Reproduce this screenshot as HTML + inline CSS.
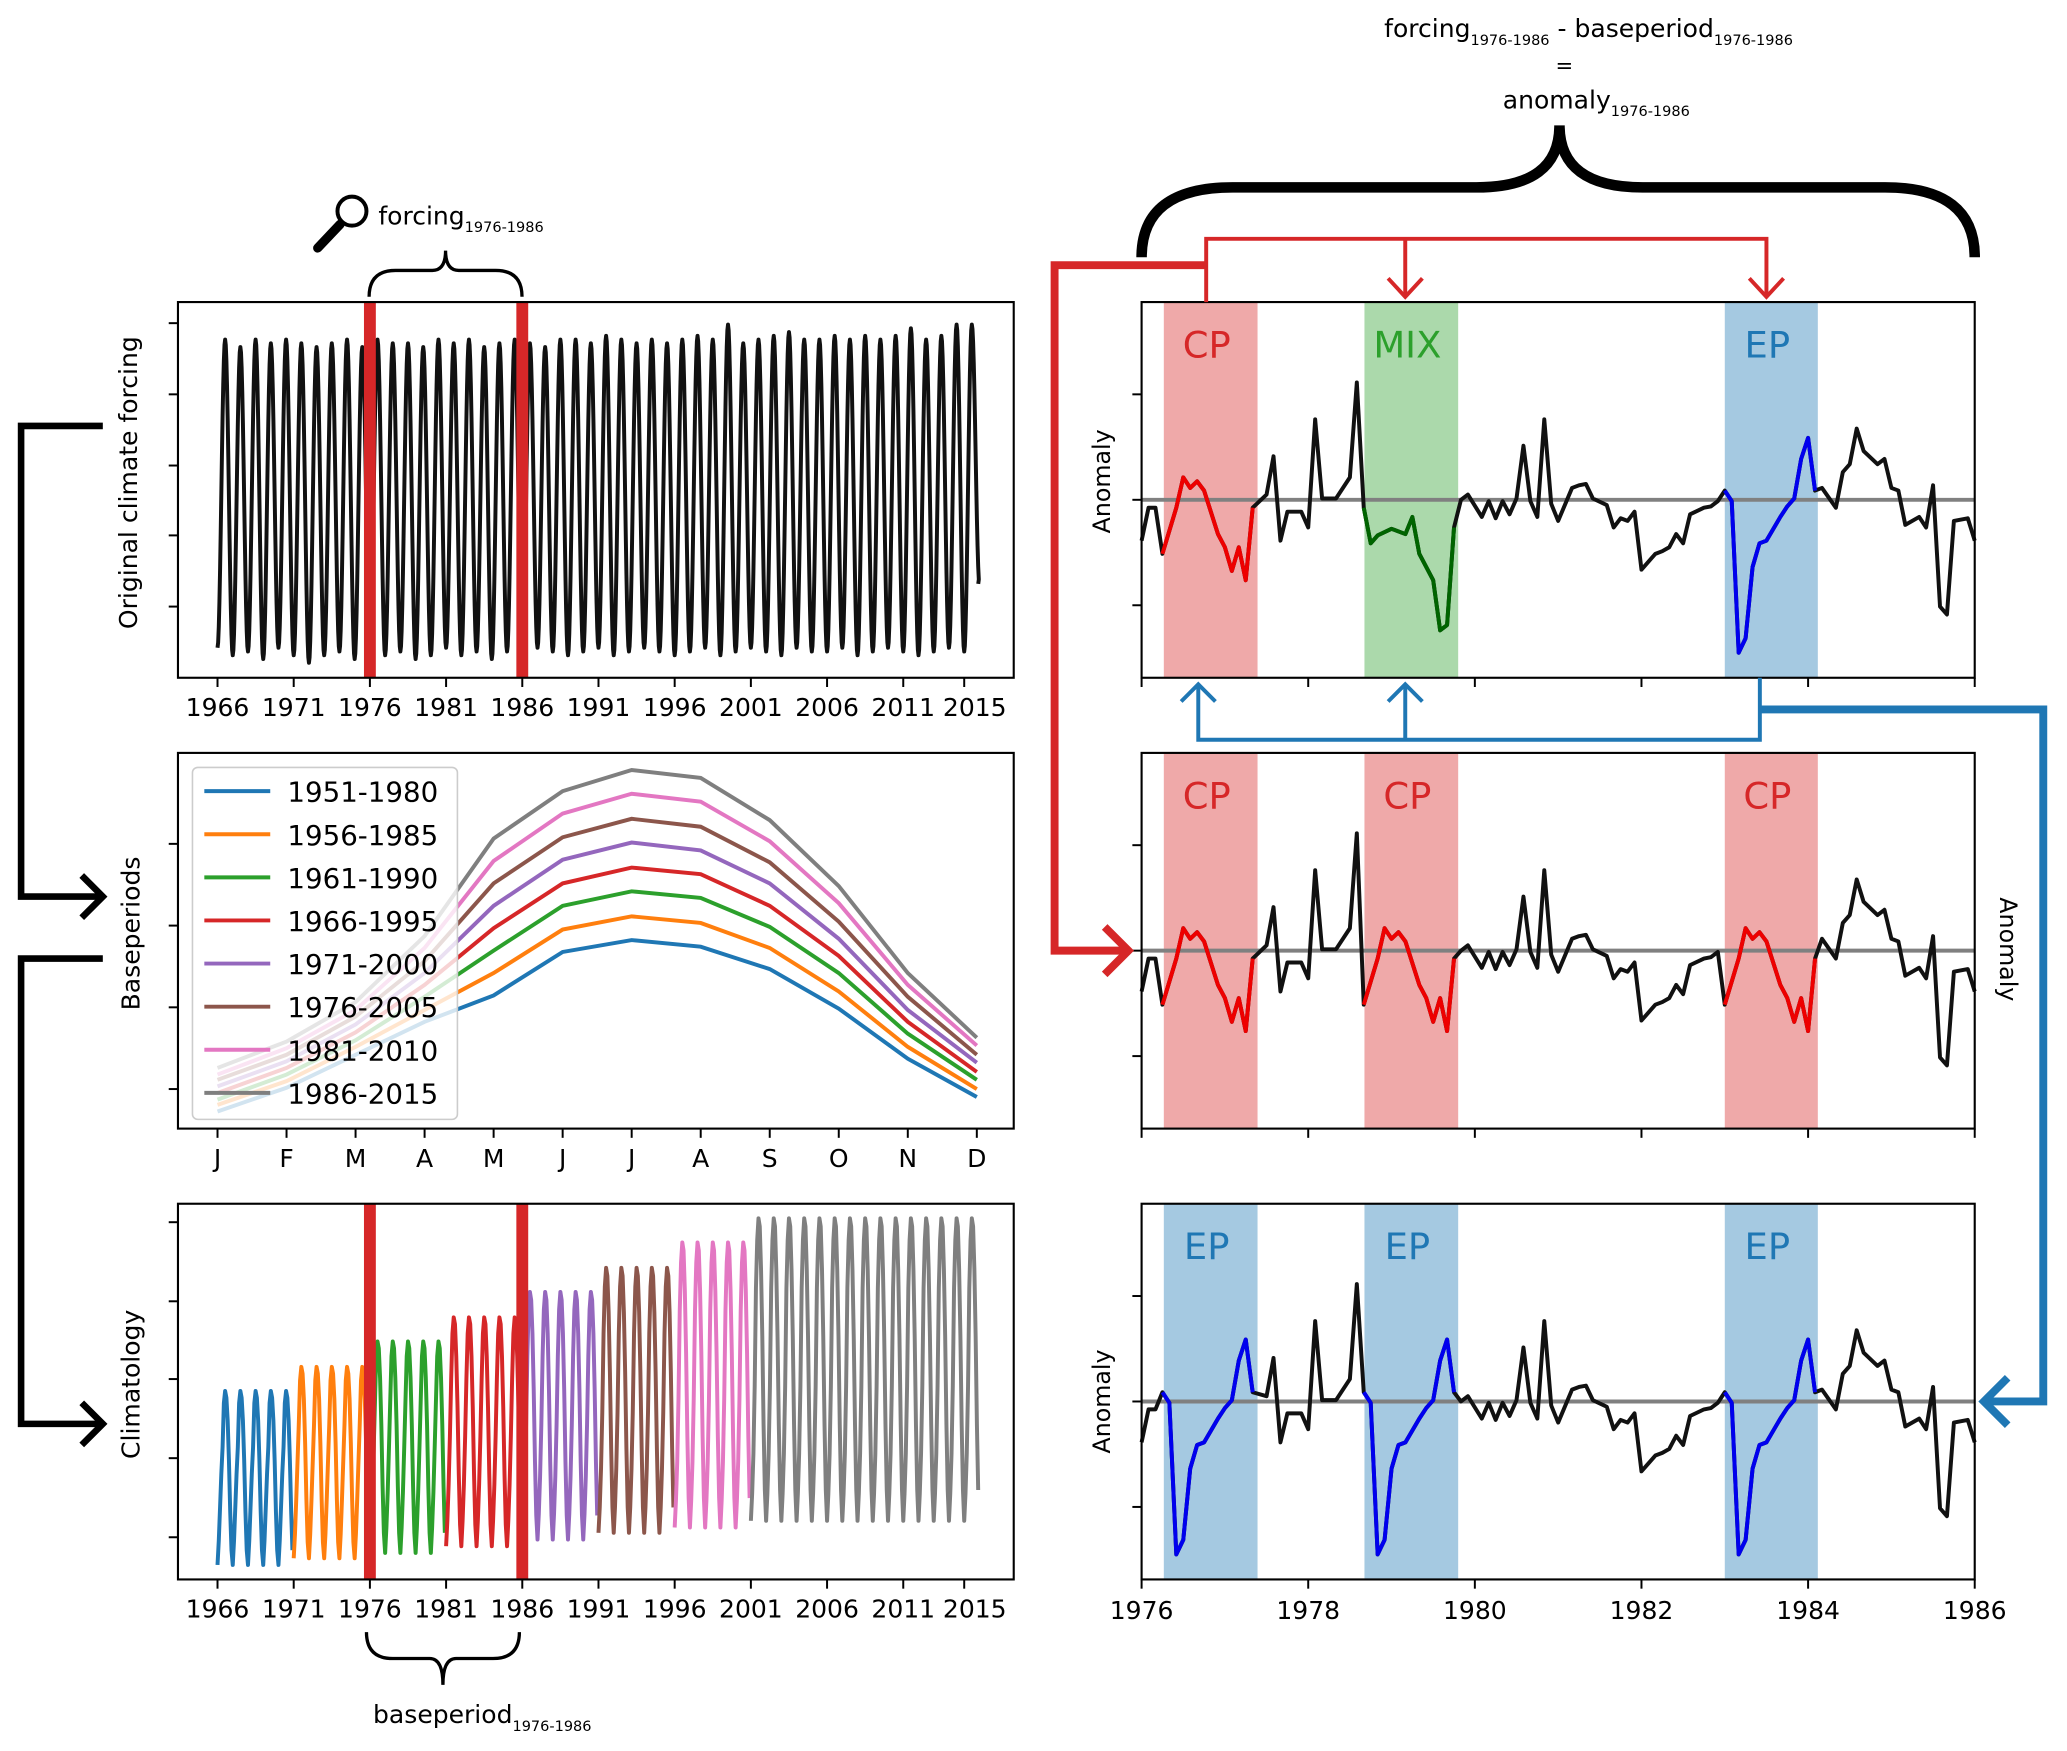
<!DOCTYPE html>
<html><head><meta charset="utf-8"><style>
html,body{margin:0;padding:0;background:#fff;}
svg{display:block;font-family:"DejaVu Sans","Liberation Sans",sans-serif;}
</style></head><body>
<svg id="fig" xmlns="http://www.w3.org/2000/svg" width="2067" height="1751" viewBox="0 0 1568 1328">
<rect width="1568" height="1328" fill="#fff"/>
<g id="layer"></g>
<g fill="none">
  <g>
    <circle cx="267" cy="160" r="11" stroke="#000" stroke-width="3"/>
    <line x1="258" y1="170" x2="241" y2="188" stroke="#000" stroke-width="7" stroke-linecap="round"/>
  </g>
  <text x="287" y="170" font-size="19" fill="#000" stroke="none">forcing<tspan font-size="11" dy="6">1976-1986</tspan></text>
  <path d="M280,225 Q280,205 300,205 L328,205 Q338,205 338,190 Q338,205 348,205 L376,205 Q396,205 396,225" stroke="#000" stroke-width="2.5"/>
  <path d="M278,1238 Q278,1258 298,1258 L326,1258 Q336,1258 336,1278 Q336,1258 346,1258 L374,1258 Q394,1258 394,1238" stroke="#000" stroke-width="2.5"/>
  <text x="283" y="1307" font-size="19" fill="#000" stroke="none">baseperiod<tspan font-size="11" dy="6">1976-1986</tspan></text>
  <text x="1050" y="28" font-size="19" fill="#000" stroke="none">forcing<tspan font-size="11" dy="6">1976-1986</tspan><tspan dy="-6"> - baseperiod</tspan><tspan font-size="11" dy="6">1976-1986</tspan></text>
  <text x="1180" y="55" font-size="16" fill="#000" stroke="none">=</text>
  <text x="1140" y="82" font-size="19" fill="#000" stroke="none">anomaly<tspan font-size="11" dy="6">1976-1986</tspan></text>
  <path d="M866,195 Q866,142 935,142 L1120,142 Q1183,142 1183,95 Q1183,142 1246,142 L1430,142 Q1498,142 1498,195" stroke="#000" stroke-width="8"/>
  <g stroke="#d62728">
    <polyline points="915,229 915,181 1340,181 1340,225" stroke-width="3"/>
    <line x1="1066" y1="181" x2="1066" y2="225" stroke-width="3"/>
    <polyline points="1053,211 1066,225 1079,211" stroke-width="3"/>
    <polyline points="1327,211 1340,225 1353,211" stroke-width="3"/>
    <polyline points="915,201 800,201 800,721 856,721" stroke-width="6"/>
    <polyline points="838,703 856,721 838,739" stroke-width="6"/>
  </g>
  <g stroke="#1f77b4">
    <polyline points="1335,514 1335,561 909,561 909,519" stroke-width="3"/>
    <line x1="1066" y1="561" x2="1066" y2="519" stroke-width="3"/>
    <polyline points="896,532 909,519 922,532" stroke-width="3"/>
    <polyline points="1053,532 1066,519 1079,532" stroke-width="3"/>
    <polyline points="1335,538 1550,538 1550,1063 1505,1063" stroke-width="6"/>
    <polyline points="1523,1045 1505,1063 1523,1081" stroke-width="6"/>
  </g>
  <g stroke="#000" stroke-width="5">
    <polyline points="78,323 16,323 16,680 78,680"/>
    <polyline points="62,664 78,680 62,696"/>
    <polyline points="78,727 16,727 16,1080 78,1080"/>
    <polyline points="62,1064 78,1080 62,1096"/>
  </g>
</g>
</svg>
<script>
// ---------- data ----------
const leftYearTicks = [1966,1971,1976,1981,1986,1991,1996,2001,2006,2011,2015];
const forcingPeaks = [90,88,90,89,90,89,88,89,90,88,90,89,89,88,90,89,90,88,89,90,89,88,90,90,89,91,90,89,90,89,90,91,90,94,89,90,91,92,90,90,91,90,91,90,91,93,90,91,94,94];
const forcingTroughs = [8,6,7,5,8,6,4,6,7,5,8,6,7,5,6,8,6,7,5,7,6,8,7,6,7,8,6,7,8,7,6,7,8,6,7,8,7,6,8,7,7,8,6,7,8,7,6,7,8,7,25];
const monthLabels = ['J','F','M','A','M','J','J','A','S','O','N','D'];
const basePeriodNames = ['1951-1980','1956-1985','1961-1990','1966-1995','1971-2000','1976-2005','1981-2010','1986-2015'];
const baseColors = ['#1f77b4','#ff7f0e','#2ca02c','#d62728','#9467bd','#8c564b','#e377c2','#7f7f7f'];
const bp1951 = [1.3,3.1,5.6,8.1,10.1,13.4,14.3,13.8,12.1,9.1,5.3,2.4];
const bp1956 = [1.8,3.6,6.2,9.0,11.8,15.1,16.1,15.6,13.7,10.4,6.2,3.0];
const bp1961 = [2.2,4.1,6.7,10.0,13.5,16.9,18.0,17.5,15.3,11.8,7.2,3.7];
const bp1966 = [2.7,4.6,7.3,10.9,15.2,18.6,19.8,19.3,16.9,13.1,8.1,4.3];
const bp1971 = [3.2,5.1,7.9,11.8,16.9,20.4,21.7,21.1,18.6,14.4,9.0,5.0];
const bp1976 = [3.7,5.6,8.5,12.7,18.6,22.1,23.5,22.9,20.2,15.7,10.0,5.6];
const bp1981 = [4.1,6.1,9.0,13.7,20.3,23.9,25.4,24.8,21.8,17.1,10.9,6.3];
const bp1986 = [4.6,6.6,9.6,14.6,22.0,25.6,27.2,26.6,23.4,18.4,11.8,6.9];
const climStartYears = [1966,1971,1976,1981,1986,1991,1996,2001];
const climEndYears = [1971,1976,1981,1986,1991,1996,2001,2016];
const rightYearTicks = [1976,1978,1980,1982,1984,1986];
const anomMonths = [0,1,2,3,5,6,7,8,9,11,12,13,14,15,16,18,19,20,21,23,24,25,26,27,28,30,31,32,33,34,36,37,38,39,40,42,43,44,45,46,47,49,50,51,52,53,54,55,56,57,58,59,60,62,63,64,65,67,68,69,70,71,72,74,75,76,77,78,79,81,82,83,84,85,86,87,88,89,90,92,93,94,95,96,97,98,100,101,102,103,104,106,107,108,109,110,112,113,114,115,116,117,119,120];
const anomValues = [-0.31,-0.06,-0.06,-0.41,-0.06,0.17,0.09,0.14,0.07,-0.26,-0.36,-0.54,-0.36,-0.61,-0.06,0.04,0.33,-0.31,-0.09,-0.09,-0.21,0.61,0.01,0.01,0.01,0.17,0.89,-0.06,-0.33,-0.27,-0.22,-0.24,-0.26,-0.13,-0.41,-0.61,-0.99,-0.95,-0.21,0,0.04,-0.13,-0.01,-0.14,-0.01,-0.11,0.01,0.41,-0.01,-0.13,0.61,-0.03,-0.16,0.09,0.11,0.12,0.01,-0.04,-0.21,-0.14,-0.16,-0.09,-0.53,-0.41,-0.39,-0.36,-0.26,-0.33,-0.11,-0.06,-0.05,-0.01,0.07,-0.01,-1.16,-1.05,-0.51,-0.33,-0.31,-0.13,-0.05,0.01,0.31,0.47,0.07,0.09,-0.06,0.21,0.27,0.54,0.37,0.27,0.31,0.09,0.07,-0.19,-0.13,-0.21,0.11,-0.81,-0.87,-0.16,-0.14,-0.31];
const eventNames = ['CP','MIX','EP'];
const eventStart = [3.2,32.1,84.0];
const eventEnd = [16.7,45.6,97.4];

// ---------- helpers ----------
const NS='http://www.w3.org/2000/svg';
const layer=document.getElementById('layer');
function mk(tag,attrs,parent){const e=document.createElementNS(NS,tag);for(const k in attrs)e.setAttribute(k,attrs[k]);(parent||layer).appendChild(e);return e;}
function txt(s,attrs,parent){const e=mk('text',attrs,parent);e.textContent=s;return e;}
function pts(a){return a.map(p=>p[0].toFixed(2)+','+p[1].toFixed(2)).join(' ');}

const yearX=y=>165+(y-1966)*11.56;
const monthX=m=>165+m*(741-165)/11;

function frame(x0,y0,w,h,name){
  const r=mk('rect',{x:x0,y:y0,width:w,height:h,fill:'none',stroke:'#000','stroke-width':1.6});
  
  
}

// ----- Panel 1: original forcing -----
const g1=mk('g',{});


const fY=v=>514-v*2.85;
let fp=[];
for(let i=0;i<forcingPeaks.length;i++){
  const tr0=forcingTroughs[i],tr1=forcingTroughs[i+1],pk=forcingPeaks[i];
  for(let k=0;k<24;k++){const f=k/24;const b=f<0.5?tr0:tr1;const v=b+(pk-b)*(1-Math.cos(2*Math.PI*f))/2;fp.push([yearX(1966+i+f),fY(v)]);}
}
fp.push([yearX(1966+forcingPeaks.length-0.08),fY(forcingTroughs[forcingTroughs.length-1])]);
const fl=mk('polyline',{points:pts(fp),fill:'none',stroke:'#111','stroke-width':3,'stroke-linejoin':'round'},g1);


[1976,1986].forEach(y=>{const b=mk('rect',{x:yearX(y)-4.5,y:229,width:9,height:285,fill:'#d62728'},g1);

});
frame(135,229,634,285,'forcing-axes-frame');
[245,299,353,406,460].forEach(y=>mk('line',{x1:128,x2:135,y1:y,y2:y,stroke:'#000','stroke-width':1.5},g1));

function yearTicks(g,bottom){
  leftYearTicks.forEach(y=>{const x=yearX(y);
    mk('line',{x1:x,x2:x,y1:bottom,y2:bottom+7,stroke:'#000','stroke-width':1.5},g);
    const t=txt(String(y),{x:y===2015?x+8:x,y:bottom+29,'font-size':19,'text-anchor':'middle',fill:'#000'},g);
    
    });
}
yearTicks(g1,514);
const yl1=txt('Original climate forcing',{x:0,y:0,'font-size':19,'text-anchor':'middle',transform:'translate(104,366) rotate(-90)'},g1);



// ----- Panel 2: baseperiods -----
const g2=mk('g',{});


const bpData=[bp1951,bp1956,bp1961,bp1966,bp1971,bp1976,bp1981,bp1986];
const bY=v=>856-v*10;
bpData.forEach((arr,i)=>{
  const l=mk('polyline',{points:pts(arr.map((v,m)=>[monthX(m),bY(v)])),fill:'none',stroke:baseColors[i],'stroke-width':3},g2);
  
  
});
frame(135,571,634,285,'baseperiods-axes-frame');
[640,702,764,826].forEach(y=>mk('line',{x1:128,x2:135,y1:y,y2:y,stroke:'#000','stroke-width':1.5},g2));
monthLabels.forEach((m,i)=>{const x=monthX(i);
  mk('line',{x1:x,x2:x,y1:856,y2:863,stroke:'#000','stroke-width':1.5},g2);
  const t=txt(m,{x:x,y:885,'font-size':19,'text-anchor':'middle'},g2);
  
  });
const leg=mk('g',{},g2);


mk('rect',{x:146,y:582,width:201,height:267,rx:4,fill:'rgba(255,255,255,0.8)',stroke:'#ccc','stroke-width':1.2},leg);
basePeriodNames.forEach((n,i)=>{const y=600+i*32.7;
  const e=mk('g',{},leg);
  
  
  mk('line',{x1:155,x2:205,y1:y,y2:y,stroke:baseColors[i],'stroke-width':3},e);
  txt(n,{x:218,y:y+8,'font-size':21},e);});
const yl2=txt('Baseperiods',{x:0,y:0,'font-size':19,'text-anchor':'middle',transform:'translate(106,708) rotate(-90)'},g2);



// ----- Panel 3: climatology -----
const g3=mk('g',{});


const cY=v=>1187-(v-1.3)*10.15;
climStartYears.forEach((ys,i)=>{
  let p=[];
  for(let y=ys;y<climEndYears[i];y++){bpData[i].forEach((v,m)=>p.push([yearX(y+m/12),cY(v)]));}
  const l=mk('polyline',{points:pts(p),fill:'none',stroke:baseColors[i],'stroke-width':3,'stroke-linejoin':'round'},g3);
  
  
});
[1976,1986].forEach(y=>{const b=mk('rect',{x:yearX(y)-4.5,y:913,width:9,height:285,fill:'#d62728'},g3);

});
frame(135,913,634,285,'climatology-axes-frame');
[927,987,1046,1106,1166].forEach(y=>mk('line',{x1:128,x2:135,y1:y,y2:y,stroke:'#000','stroke-width':1.5},g3));
yearTicks(g3,1198);
const yl3=txt('Climatology',{x:0,y:0,'font-size':19,'text-anchor':'middle',transform:'translate(106,1050) rotate(-90)'},g3);



// ----- Right anomaly panels -----
const R={x0:866,x1:1498};
const mX=m=>R.x0+m*(R.x1-R.x0)/120;
const yrX=y=>R.x0+(y-1976)*(R.x1-R.x0)/10;
const evColors={CP:'#d62728',MIX:'#2ca02c',EP:'#1f77b4'};
const evShade={CP:'rgba(214,39,40,0.4)',MIX:'rgba(44,160,44,0.4)',EP:'rgba(31,119,180,0.4)'};
const evLine={CP:'#ee0000',MIX:'#006400',EP:'#0000ee'};
const base=anomMonths.map((m,i)=>({m:m,v:anomValues[i]}));
function seg(e){return base.filter(p=>p.m>=Math.floor(eventStart[e])&&p.m<=Math.floor(eventEnd[e]));}
function buildSeries(src){
  if(src===null) return {pts:base,types:eventNames};
  let out=base.filter(p=>!eventNames.some((n,e)=>p.m>=Math.floor(eventStart[e])&&p.m<=Math.floor(eventEnd[e])));
  const s=seg(src);
  eventNames.forEach((n,e)=>{const off=Math.floor(eventStart[e])-Math.floor(eventStart[src]);s.forEach(p=>out.push({m:p.m+off,v:p.v}));});
  out.sort((a,b)=>a.m-b.m);
  return {pts:out,types:eventNames.map(()=>eventNames[src])};
}
const panels=[{top:229,src:null,name:'anomaly-observed-panel'},{top:571,src:0,name:'anomaly-cp-panel'},{top:913,src:2,name:'anomaly-ep-panel'}];
panels.forEach((P,pi)=>{
  const g=mk('g',{});
  
  
  const aY=v=>P.top+150-v*100;
  const S=buildSeries(P.src);
  eventNames.forEach((n,e)=>{const t=S.types[e];
    const r=mk('rect',{x:mX(eventStart[e]),y:P.top,width:mX(eventEnd[e])-mX(eventStart[e]),height:285,fill:evShade[t]},g);
    
    
    const l=txt(t,{x:(mX(eventStart[e])+mX(eventEnd[e]))/2-3,y:P.top+42,'font-size':28,'text-anchor':'middle',fill:evColors[t]},g);
    
    
  });
  const z=mk('line',{x1:R.x0,x2:R.x1,y1:aY(0),y2:aY(0),stroke:'#808080','stroke-width':3},g);
  
  
  const bl=mk('polyline',{points:pts(S.pts.map(p=>[mX(p.m),aY(p.v)])),fill:'none',stroke:'#111','stroke-width':3,'stroke-linejoin':'round'},g);
  
  
  eventNames.forEach((n,e)=>{const t=S.types[e];
    const sp=S.pts.filter(p=>p.m>=Math.floor(eventStart[e])&&p.m<=Math.floor(eventEnd[e]));
    const cl=mk('polyline',{points:pts(sp.map(p=>[mX(p.m),aY(p.v)])),fill:'none',stroke:evLine[t],'stroke-width':3,'stroke-linejoin':'round'},g);
    
    
  });
  frame(R.x0,P.top,R.x1-R.x0,285,P.name+'-frame');
  [-0.8,0,0.8].forEach(v=>mk('line',{x1:R.x0-7,x2:R.x0,y1:aY(v),y2:aY(v),stroke:'#000','stroke-width':1.5},g));
  rightYearTicks.forEach(y=>{const x=yrX(y);
    mk('line',{x1:x,x2:x,y1:P.top+285,y2:P.top+292,stroke:'#000','stroke-width':1.5},g);
    if(pi===2){const t=txt(String(y),{x:x,y:P.top+315,'font-size':19,'text-anchor':'middle'},g);
      
      }
  });
});
const a1=txt('Anomaly',{x:0,y:0,'font-size':18,'text-anchor':'middle',transform:'translate(842,365) rotate(-90)'});


const a2=txt('Anomaly',{x:0,y:0,'font-size':18,'text-anchor':'middle',transform:'translate(1517,720) rotate(90)'});


const a3=txt('Anomaly',{x:0,y:0,'font-size':18,'text-anchor':'middle',transform:'translate(842,1063) rotate(-90)'});


</script>
</body></html>
